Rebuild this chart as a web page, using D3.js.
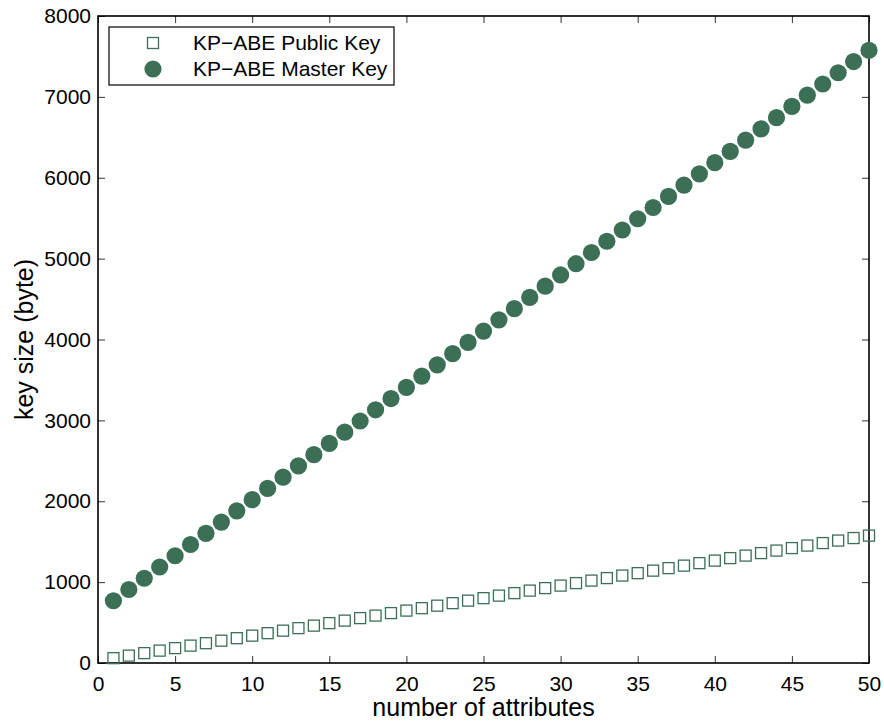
<!DOCTYPE html>
<html>
<head>
<meta charset="utf-8">
<script src="https://cdn.jsdelivr.net/npm/d3@7"></script>
<style>
  body { margin: 0; background: #fff; }
  text { font-family: "Liberation Sans", Arial, sans-serif; fill: #000; }
</style>
</head>
<body>
<svg id="chart" width="884" height="722"></svg>
<script>
// attribute counts 1..50
var attributes = [1,2,3,4,5,6,7,8,9,10,11,12,13,14,15,16,17,18,19,20,
  21,22,23,24,25,26,27,28,29,30,31,32,33,34,35,36,37,38,39,40,
  41,42,43,44,45,46,47,48,49,50];

var publicKey = [60,91,122,153,184,215,245,276,307,338,369,400,431,462,493,524,555,586,617,648,
  678,709,740,771,802,833,864,895,926,957,988,1019,1050,1081,1111,1142,1173,1204,1235,1266,
  1297,1328,1359,1390,1421,1452,1483,1514,1545,1575];

var masterKey = [770,909,1048,1187,1326,1465,1603,1742,1881,2020,2159,2298,2437,2576,2715,2854,2992,3131,3270,3409,
  3548,3687,3826,3965,4104,4243,4381,4520,4659,4798,4937,5076,5215,5354,5493,5632,5770,5909,6048,6187,
  6326,6465,6604,6743,6882,7021,7159,7298,7437,7576];

var xTicks = [0,5,10,15,20,25,30,35,40,45,50];
var yTicks = [0,1000,2000,3000,4000,5000,6000,7000,8000];
var seriesNames = ["KP\u2212ABE Public Key", "KP\u2212ABE Master Key"];

var color = "#3b6f56";
var margin = {top: 16, right: 15, bottom: 59, left: 98};
var width = 884, height = 722;
var fmt = d3.format("d");

var svg = d3.select("#chart");
var g = svg.append("g")
  .attr("transform", "translate(" + margin.left + "," + margin.top + ")");

var w = width - margin.left - margin.right,
    h = height - margin.top - margin.bottom;

var x = d3.scaleLinear().domain([0, 50]).range([0, w]);
var y = d3.scaleLinear().domain([0, 8000]).range([h, 0]);

// axes with inward ticks, mirrored on top/right
var tl = 7;
g.append("g").attr("transform", "translate(0," + h + ")")
  .call(d3.axisBottom(x).tickValues(xTicks).tickFormat(fmt).tickSizeInner(-tl).tickSizeOuter(0).tickPadding(13))
  .call(function(a) { a.select(".domain").remove(); });
g.append("g")
  .call(d3.axisTop(x).tickValues(xTicks).tickSizeInner(-tl).tickSizeOuter(0).tickFormat(""))
  .call(function(a) { a.select(".domain").remove(); });
g.append("g")
  .call(d3.axisLeft(y).tickValues(yTicks).tickFormat(fmt).tickSizeInner(-tl).tickSizeOuter(0).tickPadding(7))
  .call(function(a) { a.select(".domain").remove(); });
g.append("g").attr("transform", "translate(" + w + ",0)")
  .call(d3.axisRight(y).tickValues(yTicks).tickSizeInner(-tl).tickSizeOuter(0).tickFormat(""))
  .call(function(a) { a.select(".domain").remove(); });

g.selectAll(".tick line").attr("stroke", "#333").attr("stroke-width", 1);
g.selectAll(".tick text").style("font-size", "21px").style("font-family", "Liberation Sans, Arial, sans-serif");

g.append("rect")
  .attr("width", w).attr("height", h)
  .attr("fill", "none").attr("stroke", "#000").attr("stroke-width", 1.6);

// data
g.selectAll(".pk").data(attributes).enter().append("rect")
  .attr("class", "pk")
  .attr("x", function(d, i) { return x(d) - 5.5; })
  .attr("y", function(d, i) { return y(publicKey[i]) - 5.5; })
  .attr("width", 11).attr("height", 11)
  .attr("fill", "none").attr("stroke", color).attr("stroke-width", 1.3);

g.selectAll(".mk").data(attributes).enter().append("circle")
  .attr("class", "mk")
  .attr("cx", function(d) { return x(d); })
  .attr("cy", function(d, i) { return y(masterKey[i]); })
  .attr("r", 8.6)
  .attr("fill", color);

// legend
var lg = svg.append("g");
lg.append("rect")
  .attr("x", 109).attr("y", 27).attr("width", 285).attr("height", 58)
  .attr("fill", "#fff").attr("stroke", "#000").attr("stroke-width", 1.2);
lg.append("rect")
  .attr("x", 153 - 5.5).attr("y", 43 - 5.5).attr("width", 11).attr("height", 11)
  .attr("fill", "none").attr("stroke", color).attr("stroke-width", 1.3);
lg.append("circle").attr("cx", 153).attr("cy", 69).attr("r", 8.6).attr("fill", color);
lg.selectAll(".lt").data(seriesNames).enter().append("text")
  .attr("x", 193)
  .attr("y", function(d, i) { return 43 + i * 26; })
  .attr("dy", "0.35em")
  .style("font-size", "21px")
  .text(function(d) { return d; });

// axis labels
svg.append("text")
  .attr("x", margin.left + w / 2).attr("y", 716)
  .attr("text-anchor", "middle")
  .style("font-size", "25px")
  .text("number of attributes");
svg.append("text")
  .attr("transform", "translate(33," + (margin.top + h / 2) + ") rotate(-90)")
  .attr("text-anchor", "middle")
  .style("font-size", "25px")
  .text("key size (byte)");
</script>
</body>
</html>
